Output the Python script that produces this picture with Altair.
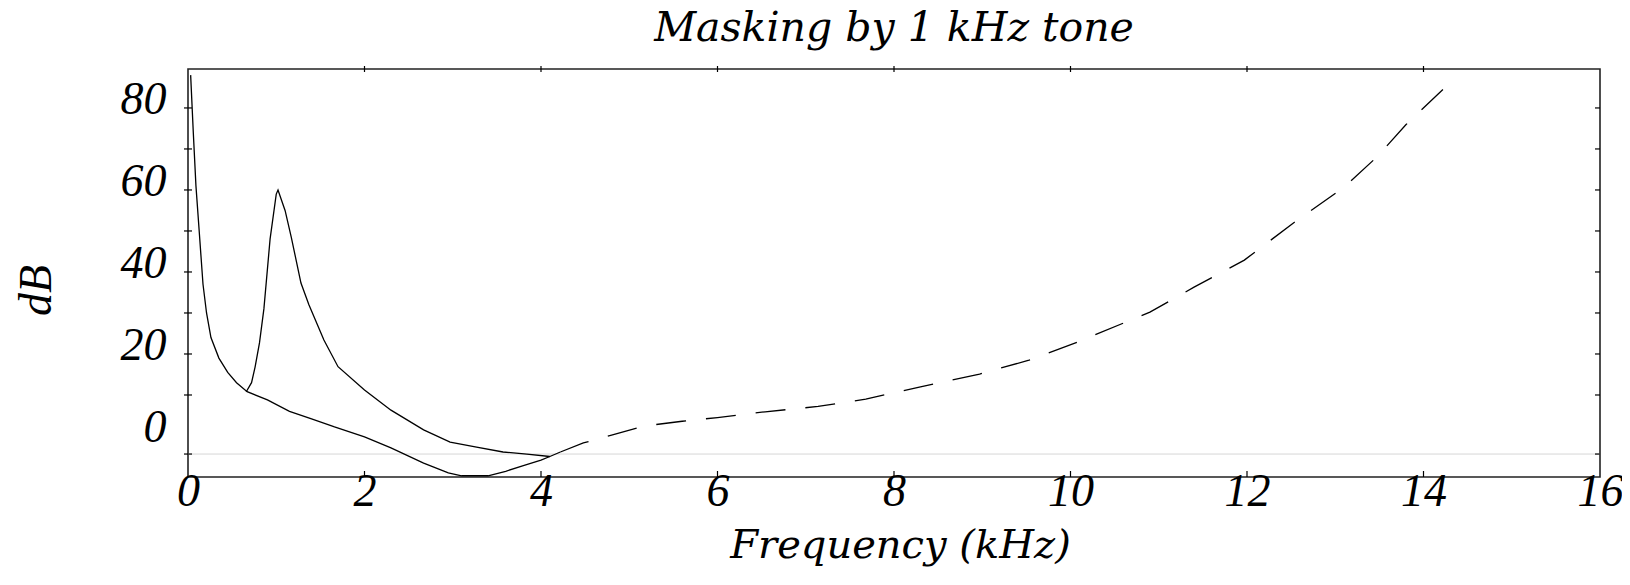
import altair as alt
import pandas as pd

# ---- data ----
title_text = ["Masking by 1 kHz tone"]
# threshold in quiet (solid part), kHz / dB
quiet_f = [0.03, 0.06, 0.09, 0.13, 0.17, 0.21, 0.26, 0.35, 0.45, 0.55, 0.67, 0.9, 1.15, 1.4, 1.66, 2.0, 2.3, 2.67, 2.95, 3.1, 3.4, 3.6, 3.8, 4.0, 4.1, 4.22]
quiet_db = [88, 74, 61, 49, 37, 30, 24, 19, 15.5, 13, 10.8, 8.8, 6.0, 4.2, 2.2, -0.2, -2.9, -6.6, -9.0, -9.7, -9.7, -8.6, -7.2, -5.9, -5.0, -3.9]
# threshold in quiet (dashed part)
quiet_hi_f = [4.22, 4.48, 4.8, 5.16, 5.6, 6.0, 6.54, 7.14, 7.68, 8.3, 8.97, 9.53, 10.09, 10.9, 11.4, 11.97, 12.53, 13.1, 13.47, 13.8, 14.22]
quiet_hi_db = [-3.9, -1.7, 0.2, 2.4, 3.6, 4.5, 5.9, 7.2, 9.0, 12.0, 15.1, 18.5, 23.0, 30.2, 36.3, 42.9, 52.0, 60.7, 68.0, 75.9, 84.5]
# masked threshold (1 kHz masker)
masked_f = [0.66, 0.72, 0.76, 0.81, 0.86, 0.93, 1.0, 1.02, 1.1, 1.17, 1.28, 1.37, 1.54, 1.7, 2.0, 2.3, 2.67, 2.97, 3.27, 3.57, 3.84, 4.1]
masked_db = [10.8, 13.0, 16.8, 22.7, 31.0, 48.0, 59.0, 60.0, 55.0, 48.5, 37.3, 32.0, 23.4, 16.9, 11.2, 6.3, 1.5, -1.5, -2.7, -3.9, -4.4, -5.0]

x_labels = [0, 2, 4, 6, 8, 10, 12, 14, 16]
x_minor = [2, 4, 6, 8, 10, 12, 14]
y_labels = [0, 20, 40, 60, 80]
y_minor = [10, 20, 30, 40, 50, 60, 70, 80]
zero_line_db = -4.4

W, H = 1412, 408

xs = alt.Scale(domain=[0, 16], nice=False, zero=False)
ys = alt.Scale(domain=[-10, 89.5], nice=False, zero=False)

x_axis = alt.Axis(
    values=x_labels, format="d", grid=False, domain=False, ticks=False, tickSize=0,
    labelFont="Liberation Serif", labelFontStyle="italic", labelFontSize=46, labelColor="black",
    labelBaseline="alphabetic", labelPadding=28, labelFlush=False, labelOverlap=False,
    title="Frequency (kHz)", titleFont="DejaVu Serif", titleFontStyle="italic",
    titleFontWeight="normal", titleFontSize=40, titleColor="black",
    titleBaseline="alphabetic", titleAlign="center", titleX=712, titleY=80,
)
y_axis = alt.Axis(
    values=y_labels, format="d", grid=False, domain=False, ticks=False, tickSize=0,
    labelFont="Liberation Serif", labelFontStyle="italic", labelFontSize=46, labelColor="black",
    labelPadding=22, labelOffset=-8, labelFlush=False, labelOverlap=False,
    title="dB", titleFont="Liberation Serif", titleFontStyle="italic",
    titleFontWeight="normal", titleFontSize=46, titleColor="black",
    titleAngle=270, titleBaseline="alphabetic", titleAlign="center", titleX=-138, titleY=221,
)


def X(field):
    return alt.X(f"{field}:Q", scale=xs, axis=x_axis)


def Y(field):
    return alt.Y(f"{field}:Q", scale=ys, axis=y_axis)


zero_df = pd.DataFrame({"v": [zero_line_db]})
zero_line = alt.Chart(zero_df).mark_rule(color="#d6d6d6", strokeWidth=1).encode(
    y=Y("v"), x=alt.value(0), x2=alt.value(W)
)

quiet = alt.Chart(pd.DataFrame({"f": quiet_f, "db": quiet_db})).mark_line(
    color="black", strokeWidth=1.3
).encode(x=X("f"), y=Y("db"))

quiet_hi = alt.Chart(pd.DataFrame({"f": quiet_hi_f, "db": quiet_hi_db})).mark_line(
    color="black", strokeWidth=1.3, strokeDash=[30, 20]
).encode(x=X("f"), y=Y("db"))

masked = alt.Chart(pd.DataFrame({"f": masked_f, "db": masked_db})).mark_line(
    color="black", strokeWidth=1.3
).encode(x=X("f"), y=Y("db"))

ytick_df = pd.DataFrame({"v": y_minor + [zero_line_db]})
xtick_df = pd.DataFrame({"v": x_minor})

left_ticks = alt.Chart(ytick_df).mark_rule(color="black", strokeWidth=1.2).encode(
    y=Y("v"), x=alt.value(-4), x2=alt.value(4)
)
right_ticks = alt.Chart(ytick_df).mark_rule(color="black", strokeWidth=1.2).encode(
    y=Y("v"), x=alt.value(W - 5), x2=alt.value(W)
)
top_ticks = alt.Chart(xtick_df).mark_rule(color="black", strokeWidth=1.2).encode(
    x=X("v"), y=alt.value(-3), y2=alt.value(3)
)
bottom_ticks = alt.Chart(xtick_df).mark_rule(color="black", strokeWidth=1.2).encode(
    x=X("v"), y=alt.value(H - 6), y2=alt.value(H)
)

title_mark = alt.Chart(pd.DataFrame({"t": title_text})).mark_text(
    font="DejaVu Serif", fontStyle="italic", fontSize=41, color="black",
    align="center", baseline="alphabetic", clip=False,
).encode(text="t:N", x=alt.value(W / 2), y=alt.value(-28))

chart = alt.layer(
    zero_line, quiet, quiet_hi, masked, left_ticks, right_ticks, top_ticks, bottom_ticks, title_mark
).properties(
    width=W,
    height=H,
    autosize=alt.AutoSizeParams(type="none"),
    padding={"left": 180, "top": 61, "right": 22, "bottom": 100},
    background="white",
).configure_view(stroke="#222", strokeWidth=1.6)

chart.save("out.html", embed_options={"renderer": "svg", "actions": False})
